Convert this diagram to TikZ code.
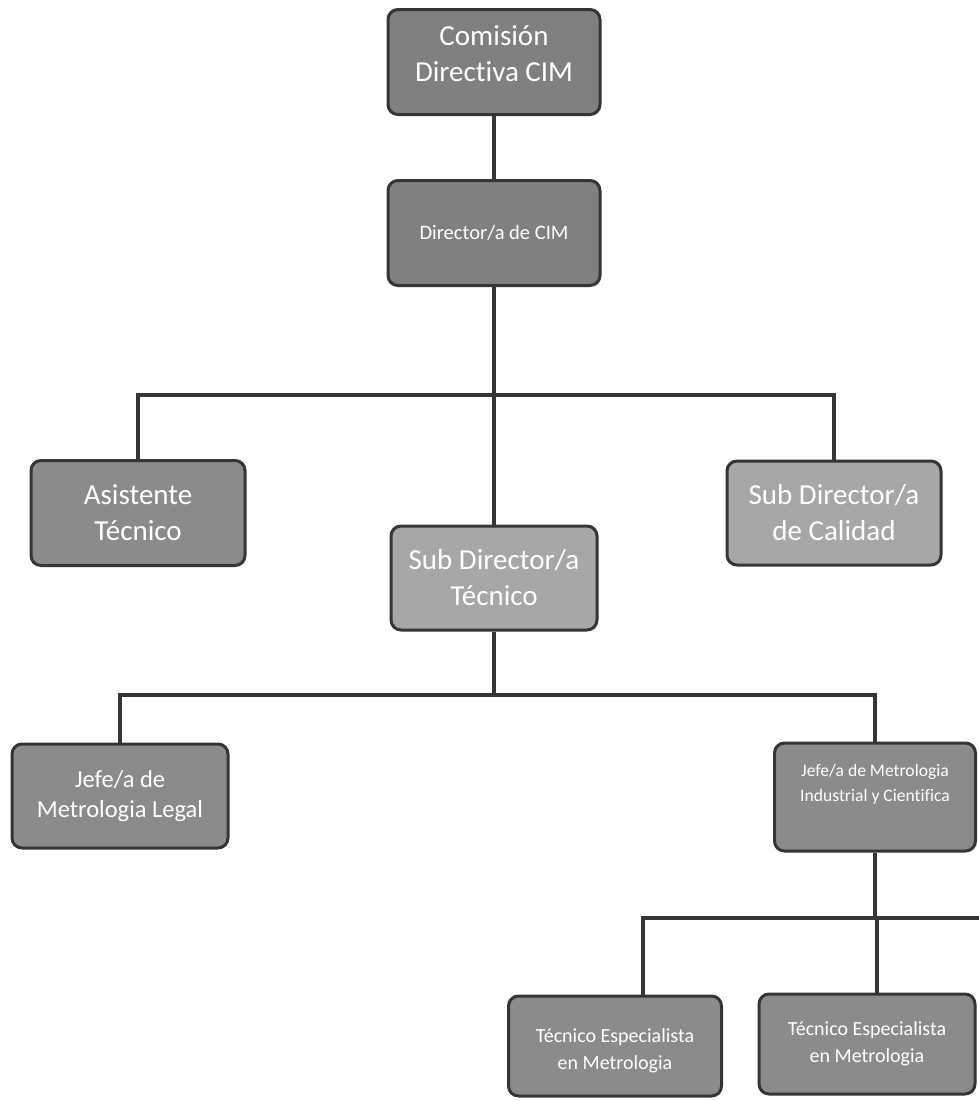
\documentclass[tikz,border=0pt]{standalone}
\usepackage{fontspec}
\setmainfont{Carlito}[Ligatures=NoCommon]
\definecolor{boxdark}{HTML}{808080}
\definecolor{boxmid}{HTML}{8B8B8B}
\definecolor{boxlight}{HTML}{A7A7A7}
\definecolor{edge}{HTML}{353535}
\newcommand{\liftup}[2]{\raisebox{#1}[\height][\depth]{\begin{tabular}{@{}c@{}}#2\end{tabular}}}
\tikzset{
  orgbox/.style={rectangle, rounded corners=10pt, draw=edge, line width=3pt,
    text=white, align=center, inner sep=0pt},
  conn/.style={draw=edge, line width=3.2pt},
  fbig/.style={font=\fontsize{29}{36}\selectfont},
  fmed/.style={font=\fontsize{24.5}{30}\selectfont},
  fsmall/.style={font=\fontsize{20}{27}\selectfont},
}
\begin{document}
\begin{tikzpicture}[x=1pt,y=-1pt]
\fill[white] (0,0) rectangle (979,1101);
\useasboundingbox (0,0) rectangle (979,1101);

\node[orgbox, fbig, fill=boxdark, minimum width=212, minimum height=105] (com) at (494,62) {\liftup{6pt}{Comisión\\Directiva CIM}};
\node[orgbox, font=\fontsize{20.5}{26}\selectfont, fill=boxdark, minimum width=212, minimum height=105] (dir) at (494,233) {Director/a de CIM};
\node[orgbox, fbig, fill=boxmid, minimum width=214, minimum height=105] (asis) at (138,513) {Asistente\\Técnico};
\node[orgbox, fbig, fill=boxlight, minimum width=214, minimum height=104] (cal) at (834,513) {Sub Director/a\\de Calidad};
\node[orgbox, fbig, fill=boxlight, minimum width=206, minimum height=104] (sdt) at (494,578) {Sub Director/a\\Técnico};
\node[orgbox, fmed, fill=boxmid, minimum width=216, minimum height=104] (leg) at (120,796) {Jefe/a de\\Metrologia Legal};
\node[orgbox, font=\fontsize{17.6}{25}\selectfont, fill=boxmid, minimum width=201, minimum height=108] (ind) at (875,797) {\liftup{13pt}{Jefe/a de Metrologia\\Industrial y Cientifica}};
\node[orgbox, fsmall, fill=boxmid, minimum width=213, minimum height=100] (tec1) at (615,1046) {\liftup{-5pt}{Técnico Especialista\\en Metrologia}};
\node[orgbox, fsmall, fill=boxmid, minimum width=216, minimum height=100] (tec2) at (867,1044) {Técnico Especialista\\en Metrologia};

\coordinate (b1) at (0,395);
\coordinate (b2) at (0,695);
\coordinate (b3) at (0,918);
\coordinate (b3end) at (979,918);

\draw[conn] (com.south) -- (dir.north);
\draw[conn] (dir.south) -- (sdt.north);
\draw[conn] (asis.north) -- (asis.north |- b1) -- (cal.north |- b1) -- (cal.north);
\draw[conn] (sdt.south) -- (sdt.south |- b2);
\draw[conn] (leg.north) -- (leg.north |- b2) -- (ind.north |- b2) -- (ind.north);
\draw[conn] (ind.south) -- (ind.south |- b3);
\draw[conn] ([xshift=28pt]tec1.north) -- ([xshift=28pt]tec1.north |- b3) -- (b3end);
\draw[conn] ([xshift=10pt]tec2.north) -- ([xshift=10pt]tec2.north |- b3);
\end{tikzpicture}
\end{document}
